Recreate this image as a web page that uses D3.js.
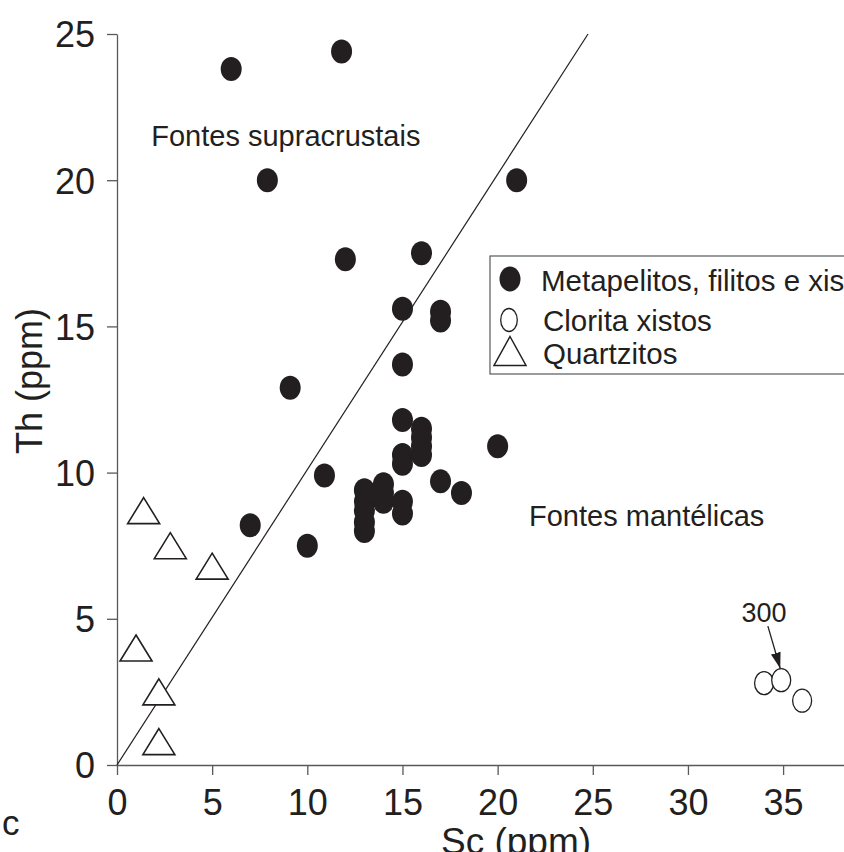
<!DOCTYPE html>
<html>
<head>
<meta charset="utf-8">
<script src="https://cdn.jsdelivr.net/npm/d3@7"></script>
<style>
  body { margin: 0; background: #fff; }
  svg { display: block; font-family: Arial, "Liberation Sans", sans-serif; }
</style>
</head>
<body>
<div id="viz"></div>
<script>
// Sc (ppm), Th (ppm)
const metapelitos = [
  [6, 23.8], [11.8, 24.4], [7.9, 20], [21, 20], [12, 17.3], [16, 17.5],
  [15, 15.6], [17, 15.5], [17, 15.2], [15, 13.7], [9.1, 12.9],
  [15, 11.8], [16, 11.5], [16, 11.2], [16, 10.9], [16, 10.6],
  [15, 10.6], [15, 10.3], [20, 10.9], [10.9, 9.9], [17, 9.7], [18.1, 9.3],
  [15, 9.0], [15, 8.6], [14, 9.6], [14, 9.3], [14, 9.0],
  [13, 9.4], [13, 9.0], [13, 8.7], [13, 8.3], [13, 8.0], [7, 8.2], [10, 7.5]
];
const cloritaXistos = [[34, 2.8], [34.9, 2.9], [36, 2.2]];
const quartzitos = [[1.4, 8.7], [2.8, 7.5], [5, 6.8], [1, 4.0], [2.2, 2.5], [2.2, 0.8]];

const xTicks = [0, 5, 10, 15, 20, 25, 30, 35];
const yTicks = [0, 5, 10, 15, 20, 25];
const divider = [[0, 0], [24.75, 25]];
const legendLabels = ["Metapelitos, filitos e xistos", "Clorita xistos", "Quartzitos"];
const regionLabels = [
  { text: "Fontes supracrustais", x: 1.8, y: 21.17 },
  { text: "Fontes mantélicas", x: 21.65, y: 8.17 }
];
const arrowNote = { text: "300", from: [34.2, 4.75], to: [34.85, 3.3], label: [34.0, 4.9] };

const ink = "#231f20";
const axisGrey = "#58595b";

function draw() {
  let svg = d3.select("#viz")
    .append("svg")
    .attr("width", 844)
    .attr("height", 852);

  let x = d3.scaleLinear().domain([0, 38.2]).range([117, 844]);
  let y = d3.scaleLinear().domain([0, 25]).range([765, 34]);

  // axes
  let xAxis = svg.append("g")
    .attr("transform", "translate(0," + y(0) + ")")
    .call(d3.axisBottom(x).tickValues(xTicks).tickSize(10).tickSizeOuter(0).tickPadding(14));
  let yAxis = svg.append("g")
    .attr("transform", "translate(" + x(0) + ",0)")
    .call(d3.axisLeft(y).tickValues(yTicks).tickSize(10).tickSizeOuter(0).tickPadding(12));

  [xAxis, yAxis].forEach(function (a) {
    a.select(".domain").attr("stroke", axisGrey).attr("stroke-width", 1.3);
    a.selectAll(".tick line").attr("stroke", axisGrey).attr("stroke-width", 1.3);
    a.selectAll(".tick text")
      .attr("fill", ink)
      .style("font-size", "36px")
      .style("font-family", "Arial, 'Liberation Sans', sans-serif");
  });
  xAxis.selectAll(".tick text").attr("dy", "0.71em");
  yAxis.selectAll(".tick text").attr("dy", "0.36em");

  // axis titles
  svg.append("text")
    .attr("x", 516)
    .attr("y", 854)
    .attr("text-anchor", "middle")
    .attr("fill", ink)
    .style("font-size", "37px")
    .text("Sc (ppm)");

  svg.append("text")
    .attr("transform", "translate(42,381) rotate(-90)")
    .attr("text-anchor", "middle")
    .attr("fill", ink)
    .style("font-size", "36px")
    .text("Th (ppm)");

  svg.append("text")
    .attr("x", 2)
    .attr("y", 835)
    .attr("fill", ink)
    .style("font-size", "35px")
    .text("c");

  // divider line
  svg.append("path")
    .datum(divider)
    .attr("d", d3.line().x(d => x(d[0])).y(d => y(d[1])))
    .attr("fill", "none")
    .attr("stroke", ink)
    .attr("stroke-width", 1.2);

  // region labels
  svg.selectAll(".region")
    .data(regionLabels)
    .enter().append("text")
    .attr("class", "region")
    .attr("x", d => x(d.x))
    .attr("y", d => y(d.y))
    .attr("fill", ink)
    .style("font-size", "29px")
    .text(d => d.text);

  // triangle path centred on its bounding box
  function triangle(w, h) {
    return "M0," + (-h / 2) + "L" + (w / 2) + "," + (h / 2) + "L" + (-w / 2) + "," + (h / 2) + "Z";
  }

  svg.selectAll(".quartz")
    .data(quartzitos)
    .enter().append("path")
    .attr("class", "quartz")
    .attr("d", triangle(32, 26))
    .attr("transform", d => "translate(" + x(d[0]) + "," + y(d[1]) + ")")
    .attr("fill", "white")
    .attr("stroke", ink)
    .attr("stroke-width", 1.6);

  svg.selectAll(".meta")
    .data(metapelitos)
    .enter().append("ellipse")
    .attr("class", "meta")
    .attr("cx", d => x(d[0]))
    .attr("cy", d => y(d[1]))
    .attr("rx", 10.5)
    .attr("ry", 12)
    .attr("fill", ink);

  svg.selectAll(".clorita")
    .data(cloritaXistos)
    .enter().append("ellipse")
    .attr("class", "clorita")
    .attr("cx", d => x(d[0]))
    .attr("cy", d => y(d[1]))
    .attr("rx", 9.5)
    .attr("ry", 11.5)
    .attr("fill", "white")
    .attr("stroke", ink)
    .attr("stroke-width", 1.3);

  // "300" annotation arrow
  svg.append("defs").append("marker")
    .attr("id", "arrowhead")
    .attr("viewBox", "0 0 10 10")
    .attr("refX", 10)
    .attr("refY", 5)
    .attr("markerWidth", 16)
    .attr("markerHeight", 10)
    .attr("markerUnits", "userSpaceOnUse")
    .attr("preserveAspectRatio", "none")
    .attr("orient", "auto")
    .append("path")
    .attr("d", "M0,0L10,5L0,10Z")
    .attr("fill", ink);

  svg.append("line")
    .attr("x1", x(arrowNote.from[0]))
    .attr("y1", y(arrowNote.from[1]))
    .attr("x2", x(arrowNote.to[0]))
    .attr("y2", y(arrowNote.to[1]))
    .attr("stroke", ink)
    .attr("stroke-width", 1.3)
    .attr("marker-end", "url(#arrowhead)");

  svg.append("text")
    .attr("x", x(arrowNote.label[0]))
    .attr("y", y(arrowNote.label[1]))
    .attr("text-anchor", "middle")
    .attr("fill", ink)
    .style("font-size", "27px")
    .text(arrowNote.text);

  // legend
  let legend = svg.append("g");
  legend.append("rect")
    .attr("x", 490)
    .attr("y", 256)
    .attr("width", 420)
    .attr("height", 118)
    .attr("fill", "white")
    .attr("stroke", axisGrey)
    .attr("stroke-width", 1.2);

  let rowY = [279, 320, 351];
  legend.append("ellipse")
    .attr("cx", 510).attr("cy", rowY[0])
    .attr("rx", 10.5).attr("ry", 12.5)
    .attr("fill", ink);
  legend.append("ellipse")
    .attr("cx", 509).attr("cy", rowY[1])
    .attr("rx", 8.3).attr("ry", 11.5)
    .attr("fill", "white")
    .attr("stroke", ink)
    .attr("stroke-width", 1.3);
  legend.append("path")
    .attr("d", triangle(32, 29))
    .attr("transform", "translate(510," + rowY[2] + ")")
    .attr("fill", "white")
    .attr("stroke", ink)
    .attr("stroke-width", 1.5);

  let textBase = [291, 331, 364];
  legend.selectAll("text")
    .data(legendLabels)
    .enter().append("text")
    .attr("x", (d, i) => i === 0 ? 541 : 543)
    .attr("y", (d, i) => textBase[i])
    .attr("fill", ink)
    .style("font-size", "29.5px")
    .text(d => d);
}

draw();
</script>
</body>
</html>
